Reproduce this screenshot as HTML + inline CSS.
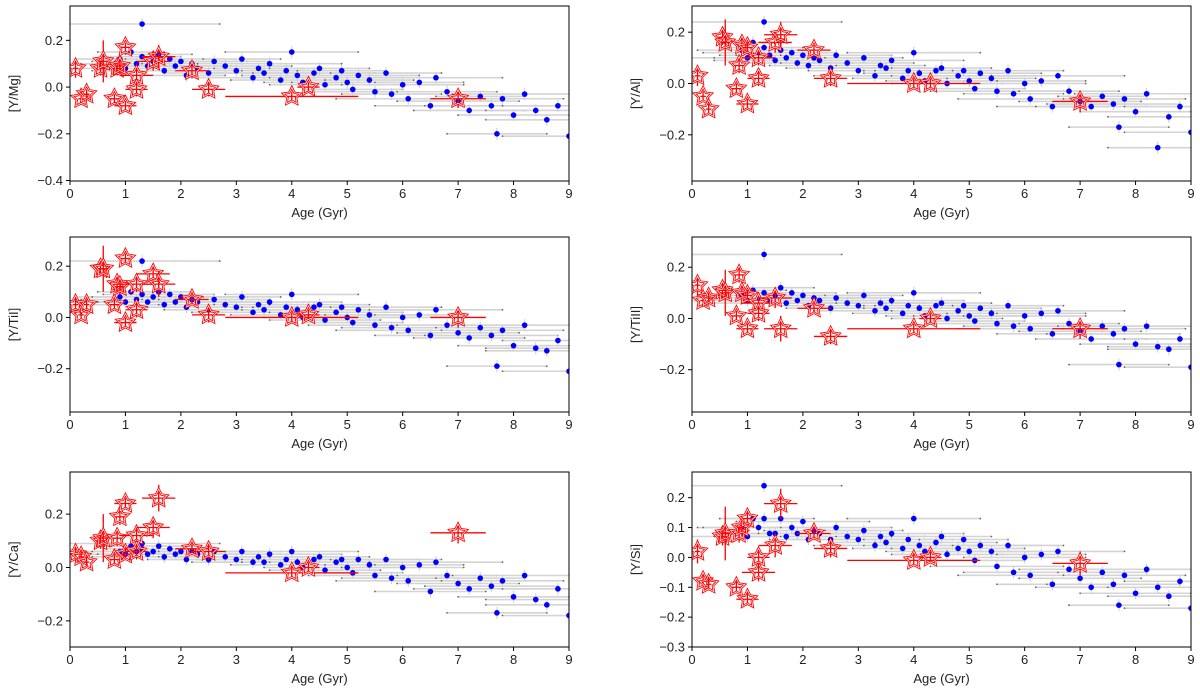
<!DOCTYPE html>
<html><head><meta charset="utf-8">
<style>
body{margin:0;background:#fff;}
svg{display:block;font-family:"Liberation Sans","DejaVu Sans",sans-serif;}
</style></head>
<body>
<svg id="chart" width="1200" height="690" viewBox="0 0 1200 690" xmlns="http://www.w3.org/2000/svg"></svg>
<script>
// shared data
const blueAges=[0.9,1.0,1.1,1.2,1.3,1.3,1.4,1.5,1.6,1.7,1.8,1.9,2.0,2.1,2.2,2.3,2.5,2.6,2.8,3.0,3.1,3.3,3.4,3.5,3.6,3.8,3.9,4.0,4.1,4.2,4.4,4.5,4.6,4.8,4.9,5.0,5.1,5.2,5.4,5.5,5.7,5.8,6.0,6.1,6.3,6.5,6.6,6.8,7.0,7.2,7.4,7.6,7.7,7.8,8.0,8.2,8.4,8.6,8.8,9.0];
const blueAgeErr=[0.8,1.2,0.6,1.0,1.4,0.7,0.9,1.1,0.6,1.3,0.8,1.0,1.2,0.7,0.9,1.1,0.8,1.0,1.2,0.9,0.7,1.1,0.8,1.0,1.3,0.9,0.8,1.2,1.0,0.7,1.1,0.9,1.0,1.2,0.8,1.0,0.9,1.1,0.8,1.2,1.0,0.9,1.1,1.3,0.8,1.0,1.2,0.9,1.1,1.0,0.8,1.2,0.9,1.1,1.0,1.3,0.9,1.1,1.0,1.2];
const valsMg=[0.12,0.08,0.15,0.10,0.27,0.13,0.09,0.11,0.14,0.07,0.12,0.09,0.11,0.05,0.10,0.08,0.06,0.11,0.09,0.07,0.12,0.04,0.08,0.06,0.10,0.03,0.07,0.15,0.05,0.02,0.06,0.08,0.01,0.04,0.07,0.02,-0.01,0.05,0.03,-0.02,0.06,-0.03,0.01,-0.05,0.02,-0.08,0.04,-0.02,-0.06,-0.10,-0.04,-0.08,-0.20,-0.05,-0.12,-0.03,-0.10,-0.14,-0.08,-0.21];
const valsAl=[0.13,0.10,0.16,0.12,0.24,0.14,0.11,0.09,0.13,0.10,0.12,0.08,0.11,0.07,0.10,0.09,0.06,0.11,0.08,0.05,0.10,0.03,0.07,0.06,0.09,0.02,0.05,0.12,0.04,0.01,0.05,0.06,0.00,0.03,0.05,0.01,-0.02,0.04,0.02,-0.03,0.05,-0.04,0.00,-0.06,0.01,-0.09,0.03,-0.03,-0.07,-0.09,-0.05,-0.08,-0.17,-0.06,-0.11,-0.04,-0.25,-0.13,-0.09,-0.19];
const valsTiI=[0.08,0.06,0.10,0.07,0.22,0.09,0.06,0.08,0.10,0.05,0.09,0.06,0.08,0.04,0.07,0.06,0.03,0.07,0.05,0.04,0.08,0.02,0.05,0.03,0.06,0.01,0.04,0.09,0.03,0.00,0.04,0.05,-0.01,0.02,0.04,0.00,-0.02,0.03,0.01,-0.03,0.04,-0.04,0.00,-0.05,0.01,-0.07,0.03,-0.03,-0.06,-0.08,-0.04,-0.07,-0.19,-0.05,-0.11,-0.03,-0.12,-0.13,-0.09,-0.21];
const valsTiII=[0.09,0.07,0.11,0.08,0.25,0.10,0.07,0.09,0.12,0.06,0.10,0.07,0.09,0.05,0.08,0.07,0.04,0.08,0.06,0.05,0.09,0.03,0.06,0.04,0.07,0.02,0.05,0.10,0.04,0.01,0.05,0.06,0.00,0.03,0.05,0.01,-0.01,0.04,0.02,-0.02,0.05,-0.03,0.01,-0.04,0.02,-0.06,0.03,-0.02,-0.05,-0.08,-0.03,-0.06,-0.18,-0.04,-0.10,-0.03,-0.11,-0.12,-0.08,-0.19];
const valsCa=[0.06,0.05,0.08,0.06,0.09,0.07,0.05,0.06,0.08,0.04,0.07,0.05,0.06,0.03,0.06,0.05,0.03,0.06,0.04,0.03,0.06,0.02,0.04,0.02,0.05,0.01,0.03,0.06,0.02,0.00,0.03,0.04,-0.01,0.02,0.03,0.00,-0.02,0.03,0.01,-0.03,0.03,-0.04,0.00,-0.05,0.01,-0.09,0.02,-0.03,-0.06,-0.08,-0.04,-0.07,-0.17,-0.05,-0.11,-0.03,-0.12,-0.14,-0.08,-0.18];
const valsSi=[0.10,0.07,0.13,0.10,0.24,0.13,0.08,0.08,0.13,0.07,0.10,0.08,0.12,0.06,0.09,0.08,0.06,0.10,0.07,0.06,0.09,0.04,0.07,0.05,0.08,0.03,0.06,0.13,0.04,0.02,0.05,0.07,0.01,0.03,0.06,0.02,-0.01,0.04,0.02,-0.03,0.04,-0.05,0.00,-0.06,0.01,-0.09,0.02,-0.04,-0.07,-0.10,-0.05,-0.09,-0.16,-0.06,-0.12,-0.04,-0.10,-0.13,-0.08,-0.17];

const starAges=[0.1,0.2,0.3,0.55,0.6,0.8,0.85,0.9,1.0,1.0,1.2,1.2,1.5,1.6,2.2,2.5,4.0,4.3,7.0];
const starAgeErr=[0.05,0.05,0.05,0.1,0.1,0.1,0.1,0.1,0.2,0.1,0.3,0.2,0.3,0.3,0.3,0.3,1.2,0.2,0.5];
const starValErr=[0.04,0.02,0.02,0.03,0.09,0.02,0.03,0.03,0.02,0.02,0.03,0.03,0.04,0.05,0.02,0.03,0.02,0.02,0.04];
const starMg=[0.08,-0.05,-0.03,0.08,0.11,-0.05,0.08,0.09,-0.08,0.17,0.05,-0.01,0.11,0.13,0.07,-0.01,-0.04,0.00,-0.05];
const starAl=[0.03,-0.05,-0.10,0.18,0.16,-0.02,0.07,0.15,-0.08,0.14,0.10,0.02,0.16,0.19,0.13,0.02,0.00,0.00,-0.07];
const starTiI=[0.05,0.01,0.05,0.19,0.19,0.05,0.13,0.12,-0.02,0.23,0.13,0.03,0.17,0.13,0.07,0.01,0.00,0.01,0.00];
const starTiII=[0.13,0.07,0.08,0.11,0.10,0.01,0.17,0.10,-0.04,0.09,0.06,0.02,0.08,-0.04,0.04,-0.07,-0.04,0.00,-0.04];
const starCa=[0.05,0.04,0.02,0.10,0.11,0.03,0.11,0.19,0.24,0.05,0.12,0.06,0.15,0.26,0.07,0.06,-0.02,0.00,0.13];
const starSi=[0.02,-0.08,-0.09,0.07,0.08,-0.10,0.08,0.10,-0.14,0.13,-0.05,0.00,0.04,0.18,0.08,0.03,-0.01,0.00,-0.02];

const panels=[
 {key:'mg',label:'[Y/Mg]',x0:70,y0:6,ymin:-0.402,ymax:0.347,ticks:[-0.4,-0.2,0,0.2],blue:valsMg,star:starMg},
 {key:'al',label:'[Y/Al]',x0:692,y0:6,ymin:-0.38,ymax:0.302,ticks:[-0.2,0,0.2],blue:valsAl,star:starAl},
 {key:'tii',label:'[Y/TiI]',x0:70,y0:237,ymin:-0.369,ymax:0.314,ticks:[-0.2,0,0.2],blue:valsTiI,star:starTiI},
 {key:'tiii',label:'[Y/TiII]',x0:692,y0:237,ymin:-0.365,ymax:0.318,ticks:[-0.2,0,0.2],blue:valsTiII,star:starTiII},
 {key:'ca',label:'[Y/Ca]',x0:70,y0:472,ymin:-0.298,ymax:0.358,ticks:[-0.2,0,0.2],blue:valsCa,star:starCa},
 {key:'si',label:'[Y/Si]',x0:692,y0:472,ymin:-0.3,ymax:0.286,ticks:[-0.3,-0.2,-0.1,0,0.1,0.2],blue:valsSi,star:starSi}
];
const xTicks=[0,1,2,3,4,5,6,7,8,9];
const W=499,H=175;
const NS='http://www.w3.org/2000/svg';
const svg=document.getElementById('chart');
function mk(tag,attrs,parent){const e=document.createElementNS(NS,tag);for(const k in attrs)e.setAttribute(k,attrs[k]);(parent||svg).appendChild(e);return e;}
function starPath(cx,cy,R){const r=R*0.5;let d='';for(let i=0;i<10;i++){const a=-Math.PI/2+i*Math.PI/5;const rr=i%2?r:R;d+=(i?'L':'M')+(cx+rr*Math.cos(a)).toFixed(1)+' '+(cy+rr*Math.sin(a)).toFixed(1);}return d+'Z';}
function fmt(v){if(Math.abs(v)<1e-9)return '0.0';return (v<0?'\u2212':'')+Math.abs(v).toFixed(1);}

panels.forEach(p=>{
  const g=mk('g',{});
  
  
  const xs=v=>p.x0+v/9*W;
  const ys=v=>p.y0+(p.ymax-v)/(p.ymax-p.ymin)*H;
  const clip=mk('clipPath',{id:'c'+p.key},g);
  mk('rect',{x:p.x0,y:p.y0,width:W,height:H},clip);
  const data=mk('g',{'clip-path':'url(#c'+p.key+')'},g);
  blueAges.forEach((a,i)=>{
    const y=ys(p.blue[i]);
    const l=mk('line',{x1:xs(a-blueAgeErr[i]),x2:xs(a+blueAgeErr[i]),y1:y,y2:y,stroke:'#d4d4d4','stroke-width':1.6},data);
    
    
    mk('circle',{cx:xs(a-blueAgeErr[i]),cy:y,r:0.9,fill:'#666'},data);
    mk('circle',{cx:xs(a+blueAgeErr[i]),cy:y,r:0.9,fill:'#666'},data);
    mk('line',{x1:xs(a),x2:xs(a),y1:y-6,y2:y+6,stroke:'#ccc','stroke-width':1},data);
  });
  blueAges.forEach((a,i)=>{
    const c=mk('circle',{cx:xs(a),cy:ys(p.blue[i]),r:2.8,fill:'#0000ff'},data);
    
    
  });
  starAges.forEach((a,i)=>{
    const x=xs(a),y=ys(p.star[i]);
    mk('line',{x1:xs(a-starAgeErr[i]),x2:xs(a+starAgeErr[i]),y1:y,y2:y,stroke:'#ff0000','stroke-width':1.3},data);
    mk('line',{x1:x,x2:x,y1:ys(p.star[i]+starValErr[i]),y2:ys(p.star[i]-starValErr[i]),stroke:'#ff0000','stroke-width':1.3},data);
    const s=mk('path',{d:starPath(x,y,9),fill:'none',stroke:'#ff0000','stroke-width':2.4,'stroke-linejoin':'miter'},data);
    
    
    mk('path',{d:starPath(x,y,9),fill:'none',stroke:'#fff','stroke-width':0.7},data);
  });
  const fr=mk('rect',{x:p.x0,y:p.y0,width:W,height:H,fill:'none',stroke:'#000','stroke-width':1},g);
  
  
  xTicks.forEach(t=>{
    const x=xs(t);
    mk('line',{x1:x,x2:x,y1:p.y0+H,y2:p.y0+H+4,stroke:'#000'},g);
    const tx=mk('text',{x:x,y:p.y0+H+17,'font-size':13,'text-anchor':'middle',fill:'#222'},g);
    tx.textContent=t;
    
    
  });
  p.ticks.forEach(t=>{
    const y=ys(t);
    mk('line',{x1:p.x0-4,x2:p.x0,y1:y,y2:y,stroke:'#000'},g);
    const tx=mk('text',{x:p.x0-7,y:y+4.5,'font-size':13,'text-anchor':'end',fill:'#222'},g);
    tx.textContent=fmt(t);
    
    
  });
  const xl=mk('text',{x:p.x0+W/2,y:p.y0+H+36,'font-size':13,'text-anchor':'middle',fill:'#222'},g);
  xl.textContent='Age (Gyr)';
  
  
  const yc=p.y0+H/2;
  const yl=mk('text',{x:p.x0-52,y:yc,'font-size':13,'text-anchor':'middle',fill:'#222',transform:'rotate(-90 '+(p.x0-52)+' '+yc+')'},g);
  yl.textContent=p.label;
  
  
});
</script>
</body></html>
